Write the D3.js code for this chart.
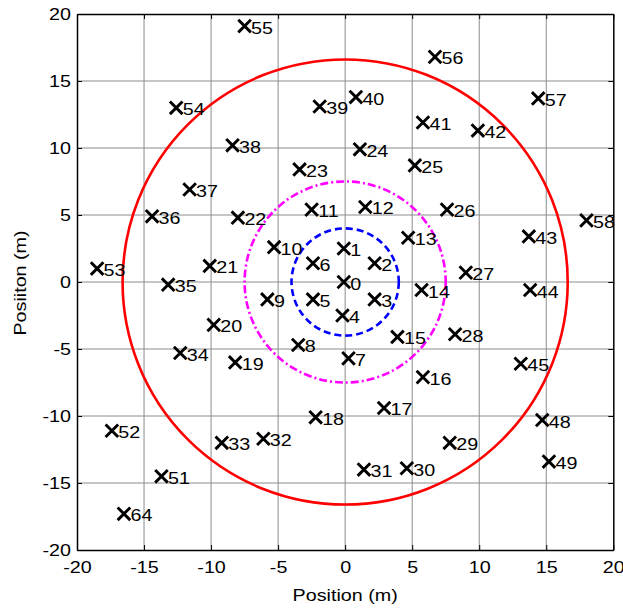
<!DOCTYPE html>
<html><head><meta charset="utf-8">
<script src="https://cdn.jsdelivr.net/npm/d3@7"></script>
<style>body{margin:0;background:#fff}svg{display:block}text{font-family:"Liberation Sans",Arial,sans-serif}</style>
</head><body>
<script>
const labels = [0,1,2,3,4,5,6,7,8,9,10,11,12,13,14,15,16,17,18,19,20,21,22,23,24,25,26,27,28,29,30,31,32,33,34,35,36,37,38,39,40,41,42,43,44,45,48,49,51,52,53,54,55,56,57,58,64];
const xs = [-0.1,-0.1,2.2,2.2,-0.2,-2.4,-2.4,0.25,-3.5,-5.8,-5.3,-2.5,1.5,4.7,5.7,3.9,5.8,2.9,-2.2,-8.2,-9.8,-10.1,-8.0,-3.4,1.1,5.2,7.6,9.0,8.2,7.8,4.6,1.4,-6.1,-9.2,-12.3,-13.2,-14.4,-11.6,-8.4,-1.9,0.8,5.8,9.9,13.7,13.8,13.1,14.7,15.2,-13.7,-17.4,-18.5,-12.6,-7.5,6.7,14.4,18.0,-16.5];
const ys = [0.0,2.5,1.4,-1.3,-2.5,-1.3,1.4,-5.7,-4.7,-1.3,2.6,5.4,5.6,3.3,-0.6,-4.1,-7.1,-9.4,-10.1,-6.0,-3.2,1.2,4.8,8.4,9.9,8.7,5.4,0.7,-3.9,-12.0,-13.9,-14.0,-11.7,-12.0,-5.3,-0.2,4.9,6.9,10.2,13.1,13.8,11.9,11.3,3.4,-0.6,-6.1,-10.3,-13.4,-14.5,-11.1,1.0,13.0,19.1,16.8,13.7,4.6,-17.3];
const radii = [4.0, 7.5, 16.6];
const circleColors = ["#0000ff", "#ff00ff", "#ff0000"];
const circleDash = ["7,4", "8,3,2,3", null];
const tickVals = [-20,-15,-10,-5,0,5,10,15,20];

const W = 623, H = 610;
const FS = "17px", STRETCH = 1.16;
const svg = d3.select("body").append("svg").attr("width", W).attr("height", H);
const x = d3.scaleLinear().domain([-20,20]).range([77, 613.3]);
const y = d3.scaleLinear().domain([-20,20]).range([550, 14]);

// grid
const g = svg.append("g");
g.selectAll(".gx").data(tickVals.slice(1,-1)).enter().append("line")
 .attr("x1", d=>x(d)).attr("x2", d=>x(d)).attr("y1", y(-20)).attr("y2", y(20))
 .attr("stroke", "#8c8c8c").attr("stroke-width", 1);
g.selectAll(".gy").data(tickVals.slice(1,-1)).enter().append("line")
 .attr("y1", d=>y(d)).attr("y2", d=>y(d)).attr("x1", x(-20)).attr("x2", x(20))
 .attr("stroke", "#8c8c8c").attr("stroke-width", 1);

const fmt = d => String(d);
const ax = svg.append("g").attr("transform", `translate(0,${y(-20)})`)
 .call(d3.axisBottom(x).tickValues(tickVals).tickSizeInner(-5).tickSizeOuter(0).tickPadding(11).tickFormat(fmt));
const axt = svg.append("g").attr("transform", `translate(0,${y(20)})`)
 .call(d3.axisTop(x).tickValues(tickVals).tickSizeInner(-5).tickSizeOuter(0).tickFormat(""));
const ay = svg.append("g").attr("transform", `translate(${x(-20)},0)`)
 .call(d3.axisLeft(y).tickValues(tickVals).tickSizeInner(-5).tickSizeOuter(0).tickPadding(6).tickFormat(fmt));
const ayr = svg.append("g").attr("transform", `translate(${x(20)},0)`)
 .call(d3.axisRight(y).tickValues(tickVals).tickSizeInner(-5).tickSizeOuter(0).tickFormat(""));
[ax,axt,ay,ayr].forEach(a=>{
  a.selectAll("path").attr("stroke","#000").attr("stroke-width",1.5);
  a.selectAll("line").attr("stroke","#000").attr("stroke-width",1);
  a.selectAll("text").attr("font-size",FS).attr("fill","#000").attr("font-family","Liberation Sans, Arial, sans-serif");
});

// circles
svg.selectAll(".ring").data(radii).enter().append("circle")
 .attr("cx", x(0)).attr("cy", y(0)).attr("r", d=>x(d)-x(0))
 .attr("fill","none").attr("stroke",(d,i)=>circleColors[i]).attr("stroke-width",2.6)
 .attr("stroke-dasharray",(d,i)=>circleDash[i]);

// markers
const pts = labels.map((l,i)=>({l, x:xs[i], y:ys[i]}));
const s = 6.3;
const mk = svg.selectAll(".pt").data(pts).enter().append("g")
 .attr("transform", d=>`translate(${x(d.x)},${y(d.y)})`);
mk.append("path").attr("d", `M${-s},${-s}L${s},${s}M${-s},${s}L${s},${-s}`)
 .attr("stroke","#000").attr("stroke-width",2.9).attr("fill","none");
mk.append("text").attr("x", 6.5).attr("y", 7.5).attr("font-size",FS).attr("fill","#000")
 .text(d=>d.l);

// axis labels
svg.append("text").attr("x", x(0)).attr("y", 601).attr("text-anchor","middle")
 .attr("font-size",FS).text("Position (m)");
svg.append("text").attr("transform", `translate(26,${y(0)+1}) rotate(-90)`).attr("text-anchor","middle")
 .attr("font-size",FS).text("Posiiton (m)");

// horizontal stretch of text to match reference glyph widths
svg.selectAll("text").each(function(){
  const w = this.getComputedTextLength();
  if (w > 0) {
    this.setAttribute("textLength", (w*STRETCH).toFixed(2));
    this.setAttribute("lengthAdjust", "spacingAndGlyphs");
  }
});
</script>
</body></html>
